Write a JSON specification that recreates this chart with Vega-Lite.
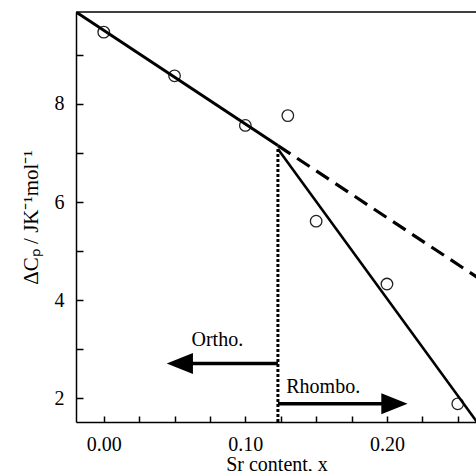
{
  "$schema": "https://vega.github.io/schema/vega-lite/v6.json",
  "autosize": {"type": "none"},
  "padding": {"left": 76, "top": 12, "right": 0, "bottom": 49},
  "width": 401,
  "height": 410,
  "background": "white",
  "config": {
    "view": {"stroke": null},
    "font": "Liberation Serif",
    "axis": {
      "labelFont": "Liberation Serif",
      "titleFont": "Liberation Serif",
      "labelFontSize": 20,
      "titleFontSize": 20,
      "titleFontWeight": "normal",
      "labelColor": "black",
      "titleColor": "black",
      "domainColor": "black",
      "domainWidth": 1.5,
      "tickColor": "black",
      "tickWidth": 1.5,
      "grid": false
    }
  },
  "layer": [
    {
      "data": {"values": [
        {"x": 0.00, "y": 9.46},
        {"x": 0.05, "y": 8.57},
        {"x": 0.10, "y": 7.56},
        {"x": 0.13, "y": 7.76},
        {"x": 0.15, "y": 5.61},
        {"x": 0.20, "y": 4.33},
        {"x": 0.25, "y": 1.89}
      ]},
      "mark": {"type": "point", "shape": "circle", "filled": false, "stroke": "#222", "strokeWidth": 1.3, "size": 133, "opacity": 1},
      "encoding": {
        "x": {"field": "x", "type": "quantitative",
              "scale": {"domain": [-0.0196, 0.2636], "nice": false, "zero": false},
              "axis": {"orient": "bottom", "title": "Sr content, x",
                       "values": [0, 0.025, 0.05, 0.075, 0.1, 0.125, 0.15, 0.175, 0.2, 0.225, 0.25],
                       "format": ".2f",
                       "labelExpr": "abs(datum.value*10 - round(datum.value*10)) < 0.001 ? datum.label : ''",
                       "ticks": true, "tickSize": -6, "tickColor": "black", "tickWidth": 1.5, "tickOpacity": 1,
                       "grid": false, "domain": true,
                       "labelPadding": 18, "titlePadding": 0}},
        "y": {"field": "y", "type": "quantitative",
              "scale": {"domain": [1.52, 9.87], "nice": false, "zero": false},
              "axis": {"orient": "left", "title": "ΔCₚ / JK⁻¹mol⁻¹", "titleFontSize": 21,
                       "values": [2, 3, 4, 5, 6, 7, 8, 9],
                       "labelExpr": "datum.value % 2 == 0 ? datum.label : ''",
                       "ticks": true, "tickSize": -7, "tickColor": "black", "tickWidth": 1.5, "tickOpacity": 1,
                       "grid": false, "domain": true,
                       "labelPadding": 19, "titlePadding": 13}}
      }
    },
    {
      "data": {"values": [
        {"x": -0.0196, "x2": 0.2636, "y": 9.87}
      ]},
      "mark": {"type": "rule", "color": "black", "strokeWidth": 1.5},
      "encoding": {
        "x": {"field": "x", "type": "quantitative"},
        "x2": {"field": "x2"},
        "y": {"field": "y", "type": "quantitative"}
      }
    },
    {
      "data": {"values": [
        {"x": -0.0196, "y": 9.87},
        {"x": 0.123, "y": 7.15}
      ]},
      "mark": {"type": "line", "color": "black", "strokeWidth": 3, "clip": true},
      "encoding": {
        "x": {"field": "x", "type": "quantitative"},
        "y": {"field": "y", "type": "quantitative"}
      }
    },
    {
      "data": {"values": [
        {"x": 0.123, "y": 7.15},
        {"x": 0.2636, "y": 4.47}
      ]},
      "mark": {"type": "line", "color": "black", "strokeWidth": 3.2, "strokeDash": [15, 8], "clip": true},
      "encoding": {
        "x": {"field": "x", "type": "quantitative"},
        "y": {"field": "y", "type": "quantitative"}
      }
    },
    {
      "data": {"values": [
        {"x": 0.123, "y": 7.08},
        {"x": 0.2636, "y": 1.52}
      ]},
      "mark": {"type": "line", "color": "black", "strokeWidth": 2.6, "clip": true},
      "encoding": {
        "x": {"field": "x", "type": "quantitative"},
        "y": {"field": "y", "type": "quantitative"}
      }
    },
    {
      "data": {"values": [
        {"x": 0.123, "y": 1.52},
        {"x": 0.123, "y": 7.08}
      ]},
      "mark": {"type": "line", "color": "black", "strokeWidth": 3, "strokeDash": [3, 2], "clip": true},
      "encoding": {
        "x": {"field": "x", "type": "quantitative"},
        "y": {"field": "y", "type": "quantitative"}
      }
    },
    {
      "data": {"values": [
        {"x": 0.123, "x2": 0.0537, "y": 2.71},
        {"x": 0.123, "x2": 0.2053, "y": 1.89}
      ]},
      "mark": {"type": "rule", "color": "black", "strokeWidth": 3.5},
      "encoding": {
        "x": {"field": "x", "type": "quantitative"},
        "x2": {"field": "x2"},
        "y": {"field": "y", "type": "quantitative"}
      }
    },
    {
      "data": {"values": [
        {"x": 0.0537, "y": 2.71, "dir": "left"},
        {"x": 0.2053, "y": 1.89, "dir": "right"}
      ]},
      "mark": {"type": "point", "filled": true, "color": "black", "opacity": 1, "size": 441, "strokeWidth": 0},
      "encoding": {
        "x": {"field": "x", "type": "quantitative"},
        "y": {"field": "y", "type": "quantitative"},
        "shape": {"field": "dir", "type": "nominal",
                  "scale": {"domain": ["left", "right"], "range": ["M1.25,-1L-1.25,0L1.25,1Z", "M-1.25,-1L1.25,0L-1.25,1Z"]},
                  "legend": null}
      }
    },
    {
      "data": {"values": [
        {"x": 0.0802, "y": 3.06, "label": "Ortho.", "align": "center"},
        {"x": 0.1289, "y": 2.11, "label": "Rhombo.", "align": "left"}
      ]},
      "mark": {"type": "text", "font": "Liberation Serif", "fontSize": 20, "color": "black", "baseline": "alphabetic", "align": {"expr": "datum.align"}},
      "encoding": {
        "x": {"field": "x", "type": "quantitative"},
        "y": {"field": "y", "type": "quantitative"},
        "text": {"field": "label"}
      }
    }
  ]
}
